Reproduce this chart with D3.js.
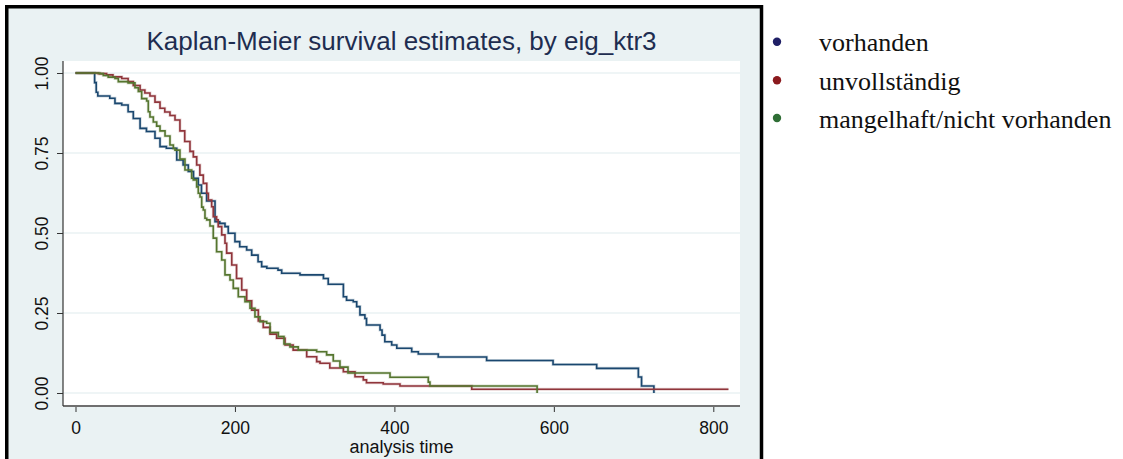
<!DOCTYPE html>
<html><head><meta charset="utf-8">
<script src="https://cdn.jsdelivr.net/npm/d3@7"></script>
<style>
html,body{margin:0;padding:0;background:#fff;}
svg{display:block;}
</style></head>
<body>
<script>
// ---------------- DATA ----------------
const seriesNames = ["vorhanden", "unvollständig", "mangelhaft/nicht vorhanden"];
const titleText = "Kaplan-Meier survival estimates, by eig_ktr3";
const xAxisTitle = "analysis time";
const xTicks = [0, 200, 400, 600, 800];
const yTicks = [0, 0.25, 0.5, 0.75, 1];
const yTickLabels = ["0.00", "0.25", "0.50", "0.75", "1.00"];

// vorhanden (blue)
const blueT = [0, 24, 26, 28, 43, 49.5, 58, 66, 72.5, 81, 89, 99.7, 106, 114, 127, 135, 141.5, 148, 154, 158, 164.5, 175, 181, 187.5, 191.6, 200, 206, 214.7, 221, 229, 233.5, 240, 254, 258.6, 281.6, 311, 317, 336, 340, 348.4, 352.7, 356.8, 363, 365, 382, 384.5, 388, 396.6, 403, 421.7, 430, 455, 515.7, 599, 653.7, 706, 710, 725.5];
const blueS = [1, 0.97, 0.94, 0.928, 0.921, 0.905, 0.9, 0.879, 0.858, 0.827, 0.817, 0.796, 0.77, 0.765, 0.728, 0.7125, 0.692, 0.671, 0.65, 0.624, 0.6, 0.535, 0.53, 0.52, 0.499, 0.473, 0.457, 0.447, 0.431, 0.41, 0.395, 0.39, 0.384, 0.374, 0.369, 0.358, 0.34, 0.301, 0.29, 0.285, 0.27, 0.244, 0.233, 0.2125, 0.197, 0.181, 0.16, 0.15, 0.14, 0.129, 0.122, 0.1125, 0.1015, 0.089, 0.077, 0.05, 0.022, 0];

// unvollständig (red)
const redT = [0, 28.6, 39, 47, 58, 66, 72.5, 81, 87, 93.4, 99.7, 106, 112, 118.5, 124.8, 131, 137, 143.6, 147.8, 152, 156, 160.3, 164.6, 166.6, 170.8, 172.8, 177, 179, 183.4, 187.5, 189.6, 196, 202, 208.5, 214.7, 221, 229.3, 235.5, 244, 252.3, 262.8, 273, 290, 302.5, 306.7, 319, 336, 350.6, 361, 365, 386, 407, 497, 819];
const redS = [1, 0.998, 0.994, 0.988, 0.983, 0.973, 0.961, 0.947, 0.9375, 0.928, 0.909, 0.89, 0.878, 0.867, 0.853, 0.819, 0.786, 0.755, 0.738, 0.7125, 0.681, 0.655, 0.624, 0.603, 0.582, 0.551, 0.541, 0.52, 0.494, 0.468, 0.437, 0.4, 0.358, 0.322, 0.288, 0.259, 0.225, 0.205, 0.184, 0.171, 0.15, 0.134, 0.1134, 0.098, 0.093, 0.078, 0.0666, 0.051, 0.041, 0.032, 0.028, 0.022, 0.0116, 0.0116];

// mangelhaft/nicht vorhanden (green)
const greenT = [0, 30.7, 34.9, 41, 49.5, 53.7, 66, 74.6, 78.8, 83, 89.3, 91.3, 93.4, 97.6, 101.8, 106, 112.3, 118.5, 122.7, 124.8, 131, 137.3, 145.7, 147.8, 152, 154, 156.2, 158.3, 160.3, 162.4, 164.6, 168.7, 172.8, 177, 183.4, 187.5, 193.8, 197.9, 204.2, 212.6, 218.9, 225.1, 231.4, 239.8, 244, 254.4, 261.5, 269, 279.4, 302.5, 315, 323.3, 331.7, 341.8, 394.5, 442.5, 444.6, 579];
const greenS = [1, 0.998, 0.992, 0.987, 0.983, 0.973, 0.969, 0.954, 0.942, 0.92, 0.9125, 0.879, 0.8625, 0.847, 0.834, 0.819, 0.803, 0.775, 0.764, 0.759, 0.731, 0.697, 0.671, 0.666, 0.644, 0.624, 0.6125, 0.581, 0.572, 0.546, 0.541, 0.522, 0.484, 0.4416, 0.4156, 0.369, 0.353, 0.327, 0.301, 0.285, 0.265, 0.238, 0.223, 0.218, 0.189, 0.1766, 0.153, 0.144, 0.134, 0.129, 0.119, 0.1, 0.081, 0.0625, 0.049, 0.034, 0.022, 0];

const lineColors = ["#1a476f", "#90353b", "#55752f"];
const dotColors = ["#1f1f66", "#8b1a1e", "#2f6e35"];

// ---------------- LAYOUT ----------------
const W = 1123, H = 459;
const plot = {left: 63, right: 740, top: 61, bottom: 406};
const svg = d3.select("body").append("svg").attr("width", W).attr("height", H);

// outer graph background + frame
svg.append("rect").attr("x", 6.75).attr("y", 6.75).attr("width", 754.75).attr("height", 520)
  .attr("fill", "#eaf2f3").attr("stroke", "#000").attr("stroke-width", 3.5);

// plot region
svg.append("rect").attr("x", plot.left).attr("y", plot.top)
  .attr("width", plot.right - plot.left).attr("height", plot.bottom - plot.top).attr("fill", "#fff");

const x = d3.scaleLinear().domain([0, 800]).range([75.5, 713.3]);
const y = d3.scaleLinear().domain([0, 1]).range([393, 73]);

// gridlines
svg.append("g").selectAll("line").data(yTicks).join("line")
  .attr("x1", plot.left).attr("x2", plot.right)
  .attr("y1", d => y(d)).attr("y2", d => y(d))
  .attr("stroke", "#eaf2f3").attr("stroke-width", 1.5);

// axes
const xAxis = d3.axisBottom(x).tickValues(xTicks).tickSize(6).tickPadding(10).tickFormat(d3.format("d"));
const gx = svg.append("g").attr("transform", `translate(0,${plot.bottom})`).call(xAxis);
gx.select(".domain").remove();
gx.selectAll(".tick line").attr("stroke", "#333").attr("stroke-width", 1);
gx.selectAll(".tick text").attr("font-family", "Liberation Sans, Arial, sans-serif")
  .attr("font-size", "17.5px").attr("fill", "#111");
svg.append("line").attr("x1", plot.left).attr("x2", plot.right)
  .attr("y1", plot.bottom).attr("y2", plot.bottom).attr("stroke", "#6f6f6f").attr("stroke-width", 2);

const yAxis = d3.axisLeft(y).tickValues(yTicks).tickSize(6).tickFormat((d, i) => yTickLabels[i]);
const gy = svg.append("g").attr("transform", `translate(${plot.left},0)`).call(yAxis);
gy.select(".domain").remove();
gy.selectAll(".tick line").attr("stroke", "#333").attr("stroke-width", 1);
gy.selectAll(".tick text")
  .attr("font-family", "Liberation Sans, Arial, sans-serif").attr("font-size", "17.5px").attr("fill", "#111")
  .attr("x", null).attr("dy", null)
  .attr("text-anchor", "middle")
  .attr("transform", "translate(-14.7,0) rotate(-90)");
svg.append("line").attr("x1", plot.left).attr("x2", plot.left)
  .attr("y1", plot.top).attr("y2", plot.bottom).attr("stroke", "#333").attr("stroke-width", 1.2);

// axis title
svg.append("text").attr("x", (plot.left + plot.right) / 2).attr("y", 453)
  .attr("text-anchor", "middle").attr("font-family", "Liberation Sans, Arial, sans-serif")
  .attr("font-size", "18px").attr("fill", "#111").text(xAxisTitle);

// title
svg.append("text").attr("x", (plot.left + plot.right) / 2).attr("y", 50)
  .attr("text-anchor", "middle").attr("font-family", "Liberation Sans, Arial, sans-serif")
  .attr("font-size", "26px").attr("fill", "#1e2d50").text(titleText);

// curves
const series = [
  {t: blueT, s: blueS},
  {t: redT, s: redS},
  {t: greenT, s: greenS}
];
const line = d3.line().x(d => x(d[0])).y(d => y(d[1])).curve(d3.curveStepAfter);
const gl = svg.append("g");
series.forEach((sr, i) => {
  const pts = sr.t.map((t, j) => [t, sr.s[j]]);
  gl.append("path").attr("d", line(pts)).attr("fill", "none")
    .attr("stroke", lineColors[i]).attr("stroke-opacity", 0.22).attr("stroke-width", 3);
  gl.append("path").attr("d", line(pts)).attr("fill", "none")
    .attr("stroke", lineColors[i]).attr("stroke-width", 1.6);
});

// legend
const legY = [41.7, 80.3, 118];
const lg = svg.append("g");
seriesNames.forEach((n, i) => {
  lg.append("circle").attr("cx", 777).attr("cy", legY[i]).attr("r", 4.2).attr("fill", dotColors[i]);
  lg.append("text").attr("x", 819).attr("y", legY[i] + 9.5)
    .attr("font-family", "Liberation Serif, 'Times New Roman', serif").attr("font-size", "26px")
    .attr("fill", "#111").text(n);
});
</script>
</body></html>
